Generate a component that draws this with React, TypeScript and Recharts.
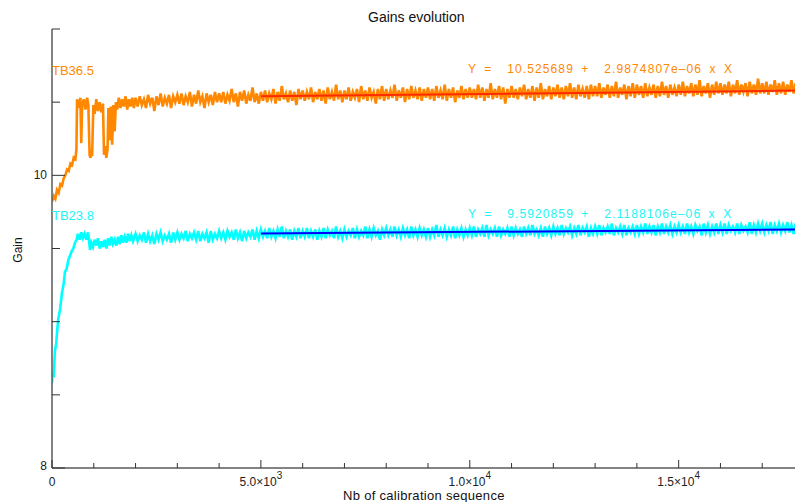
import React from 'react';
import { ComposedChart, Line, XAxis, YAxis } from 'recharts';

// early part of each channel, read point by point (sequence number, gain)
const orangeEarlySeq = [0, 40, 80, 120, 160, 200, 240, 280, 320, 360, 400, 440, 480, 520, 560, 585, 600, 640, 680, 700, 720, 760, 800, 840, 870, 900, 920, 940, 960, 990, 1020, 1060, 1100, 1140, 1180, 1220, 1245, 1270, 1300, 1330, 1350, 1380, 1410, 1440, 1470, 1500, 1530, 1560, 1600, 1640, 1680, 1720, 1760, 1800, 1840, 1880, 1920, 1960];
const orangeEarlyGain = [9.82, 9.86, 9.84, 9.9, 9.88, 9.94, 9.93, 9.98, 10.0, 10.04, 10.03, 10.08, 10.07, 10.12, 10.11, 10.18, 10.52, 10.46, 10.53, 10.22, 10.47, 10.52, 10.45, 10.53, 10.48, 10.14, 10.12, 10.18, 10.13, 10.48, 10.42, 10.52, 10.44, 10.5, 10.43, 10.49, 10.14, 10.2, 10.12, 10.18, 10.46, 10.24, 10.47, 10.21, 10.48, 10.3, 10.5, 10.45, 10.53, 10.46, 10.52, 10.47, 10.54, 10.45, 10.52, 10.47, 10.53, 10.46];

const cyanEarlySeq = [0, 20, 40, 70, 100, 145, 190, 240, 280, 310, 350, 390, 430, 470, 510, 550, 590, 620, 660, 700, 740, 780, 820, 860, 880, 910, 940, 980, 1020, 1060, 1100, 1140, 1180, 1220, 1260, 1300, 1340, 1380, 1420, 1460, 1500, 1540, 1580, 1620, 1660, 1700, 1740, 1780, 1820, 1860, 1900, 1940];
const cyanEarlyGain = [8.58, 8.66, 8.62, 8.8, 8.85, 9.01, 9.08, 9.2, 9.26, 9.34, 9.36, 9.42, 9.45, 9.48, 9.5, 9.54, 9.56, 9.6, 9.56, 9.61, 9.57, 9.6, 9.56, 9.61, 9.57, 9.49, 9.54, 9.51, 9.56, 9.52, 9.57, 9.5, 9.55, 9.51, 9.56, 9.5, 9.57, 9.52, 9.58, 9.53, 9.56, 9.52, 9.58, 9.53, 9.59, 9.54, 9.58, 9.54, 9.6, 9.55, 9.59, 9.55];

// steady part: one value every 50 sequences from 2000 to 18000
const LATE_START = 2000;
const LATE_STEP = 50;

const orangeLateGain = [
  10.53, 10.47, 10.54, 10.48, 10.52, 10.46, 10.55, 10.49, 10.53, 10.44, 10.54, 10.48, 10.56, 10.47, 10.53, 10.49, 10.55, 10.46, 10.54, 10.5,
  10.55, 10.49, 10.56, 10.48, 10.54, 10.5, 10.57, 10.47, 10.55, 10.49, 10.58, 10.5, 10.54, 10.46, 10.56, 10.5, 10.55, 10.48, 10.57, 10.5,
  10.56, 10.5, 10.57, 10.49, 10.55, 10.51, 10.59, 10.5, 10.56, 10.47, 10.57, 10.51, 10.58, 10.49, 10.55, 10.51, 10.6, 10.5, 10.56, 10.49,
  10.57, 10.51, 10.58, 10.5, 10.56, 10.52, 10.59, 10.49, 10.57, 10.51, 10.61, 10.52, 10.56, 10.5, 10.58, 10.51, 10.57, 10.48, 10.59, 10.52,
  10.58, 10.51, 10.57, 10.52, 10.6, 10.5, 10.57, 10.52, 10.59, 10.51, 10.58, 10.49, 10.6, 10.52, 10.57, 10.51, 10.62, 10.52, 10.58, 10.5,
  10.58, 10.52, 10.6, 10.51, 10.57, 10.53, 10.59, 10.5, 10.61, 10.52, 10.58, 10.51, 10.6, 10.53, 10.57, 10.49, 10.59, 10.52, 10.61, 10.51,
  10.59, 10.52, 10.58, 10.53, 10.62, 10.51, 10.58, 10.53, 10.6, 10.5, 10.59, 10.52, 10.61, 10.53, 10.58, 10.52, 10.6, 10.51, 10.59, 10.53,
  10.6, 10.52, 10.59, 10.51, 10.61, 10.53, 10.58, 10.52, 10.62, 10.51, 10.59, 10.53, 10.6, 10.5, 10.58, 10.53, 10.61, 10.52, 10.59, 10.53,
  10.6, 10.53, 10.59, 10.52, 10.62, 10.53, 10.6, 10.51, 10.59, 10.53, 10.63, 10.52, 10.59, 10.53, 10.61, 10.52, 10.6, 10.49, 10.59, 10.53,
  10.61, 10.53, 10.59, 10.52, 10.6, 10.54, 10.62, 10.52, 10.59, 10.53, 10.61, 10.51, 10.6, 10.53, 10.63, 10.52, 10.59, 10.54, 10.61, 10.52,
  10.6, 10.54, 10.62, 10.53, 10.6, 10.52, 10.61, 10.54, 10.63, 10.53, 10.6, 10.52, 10.62, 10.54, 10.59, 10.53, 10.61, 10.52, 10.62, 10.54,
  10.61, 10.54, 10.63, 10.53, 10.6, 10.55, 10.62, 10.53, 10.61, 10.54, 10.64, 10.53, 10.6, 10.55, 10.62, 10.52, 10.61, 10.54, 10.63, 10.53,
  10.62, 10.55, 10.61, 10.53, 10.63, 10.54, 10.6, 10.55, 10.62, 10.53, 10.61, 10.54, 10.64, 10.55, 10.61, 10.53, 10.62, 10.55, 10.6, 10.54,
  10.62, 10.55, 10.64, 10.54, 10.61, 10.56, 10.63, 10.54, 10.62, 10.55, 10.65, 10.54, 10.61, 10.56, 10.63, 10.53, 10.62, 10.55, 10.64, 10.56,
  10.63, 10.55, 10.62, 10.56, 10.64, 10.54, 10.62, 10.56, 10.65, 10.55, 10.62, 10.57, 10.63, 10.54, 10.64, 10.56, 10.62, 10.55, 10.66, 10.56,
  10.63, 10.56, 10.64, 10.55, 10.62, 10.57, 10.65, 10.55, 10.63, 10.56, 10.64, 10.55, 10.62, 10.57, 10.65, 10.56, 10.63, 10.55, 10.64, 10.57,
  10.62,
];

const cyanLateGain = [
  9.6, 9.55, 9.59, 9.56, 9.61, 9.54, 9.6, 9.55, 9.59, 9.53, 9.6, 9.56, 9.61, 9.55, 9.59, 9.56, 9.6, 9.54, 9.61, 9.56,
  9.61, 9.56, 9.6, 9.57, 9.62, 9.55, 9.6, 9.57, 9.61, 9.56, 9.62, 9.55, 9.6, 9.57, 9.61, 9.54, 9.62, 9.56, 9.6, 9.57,
  9.62, 9.57, 9.61, 9.56, 9.62, 9.58, 9.61, 9.56, 9.63, 9.57, 9.61, 9.55, 9.62, 9.57, 9.61, 9.58, 9.63, 9.56, 9.62, 9.57,
  9.63, 9.58, 9.62, 9.57, 9.64, 9.58, 9.62, 9.57, 9.63, 9.58, 9.65, 9.57, 9.62, 9.58, 9.63, 9.56, 9.62, 9.58, 9.64, 9.57,
  9.62, 9.58, 9.64, 9.57, 9.62, 9.58, 9.63, 9.56, 9.62, 9.58, 9.64, 9.57, 9.63, 9.59, 9.62, 9.57, 9.65, 9.58, 9.62, 9.57,
  9.63, 9.58, 9.62, 9.59, 9.64, 9.57, 9.63, 9.58, 9.62, 9.59, 9.65, 9.57, 9.63, 9.58, 9.64, 9.59, 9.62, 9.56, 9.63, 9.59,
  9.64, 9.59, 9.63, 9.58, 9.65, 9.59, 9.63, 9.58, 9.64, 9.59, 9.63, 9.57, 9.65, 9.59, 9.63, 9.58, 9.64, 9.59, 9.63, 9.58,
  9.64, 9.58, 9.63, 9.59, 9.66, 9.58, 9.63, 9.59, 9.64, 9.58, 9.63, 9.59, 9.65, 9.57, 9.63, 9.59, 9.64, 9.58, 9.63, 9.59,
  9.64, 9.59, 9.65, 9.58, 9.63, 9.6, 9.64, 9.58, 9.66, 9.59, 9.63, 9.6, 9.64, 9.58, 9.65, 9.59, 9.63, 9.6, 9.64, 9.58,
  9.65, 9.59, 9.64, 9.6, 9.63, 9.58, 9.65, 9.6, 9.64, 9.59, 9.66, 9.6, 9.63, 9.59, 9.64, 9.58, 9.65, 9.6, 9.64, 9.59,
  9.65, 9.6, 9.64, 9.59, 9.66, 9.6, 9.64, 9.61, 9.65, 9.59, 9.64, 9.6, 9.66, 9.59, 9.64, 9.61, 9.65, 9.58, 9.64, 9.6,
  9.65, 9.6, 9.66, 9.59, 9.64, 9.61, 9.65, 9.6, 9.67, 9.59, 9.64, 9.61, 9.65, 9.6, 9.66, 9.59, 9.64, 9.61, 9.65, 9.6,
  9.66, 9.6, 9.65, 9.61, 9.67, 9.6, 9.65, 9.61, 9.66, 9.59, 9.65, 9.61, 9.67, 9.6, 9.65, 9.61, 9.66, 9.6, 9.65, 9.61,
  9.66, 9.61, 9.65, 9.6, 9.67, 9.61, 9.65, 9.6, 9.66, 9.62, 9.65, 9.59, 9.67, 9.61, 9.66, 9.6, 9.65, 9.61, 9.67, 9.6,
  9.66, 9.61, 9.67, 9.6, 9.66, 9.62, 9.65, 9.61, 9.67, 9.6, 9.66, 9.62, 9.65, 9.61, 9.68, 9.6, 9.66, 9.61, 9.67, 9.62,
  9.67, 9.61, 9.66, 9.62, 9.68, 9.6, 9.66, 9.62, 9.67, 9.61, 9.66, 9.62, 9.68, 9.61, 9.66, 9.6, 9.67, 9.62, 9.66, 9.61,
  9.66,
];

// linear fits, drawn from 5000 to the end
const fitSeq = [5000, 18000];
const orangeFit = [10.54, 10.58];
const cyanFit = [9.603, 9.63];

const xTicks = [0, 1000, 2000, 3000, 4000, 5000, 6000, 7000, 8000, 9000, 10000, 11000, 12000, 13000, 14000, 15000, 16000, 17000, 18000];
const xTickLabels: Record<number, [string, string]> = {
  0: ['0', ''],
  5000: ['5.0×10', '3'],
  10000: ['1.0×10', '4'],
  15000: ['1.5×10', '4'],
};
const yTicks = [8, 8.5, 9, 9.5, 10, 10.5, 11];
const yTickLabels: Record<number, string> = { 8: '8', 10: '10' };

const ORANGE = '#ff8800';
const ORANGE_FIT = '#ff2a00';
const CYAN = '#00ffff';
const CYAN_FIT = '#0000ff';
const FONT = '"Liberation Sans", Arial, sans-serif';

const orangeTable = [
  ...orangeEarlySeq.map((s, i) => ({ seq: s, gain: orangeEarlyGain[i] })),
  ...orangeLateGain.map((g, i) => ({ seq: LATE_START + i * LATE_STEP, gain: g })),
];
const cyanTable = [
  ...cyanEarlySeq.map((s, i) => ({ seq: s, gain: cyanEarlyGain[i] })),
  ...cyanLateGain.map((g, i) => ({ seq: LATE_START + i * LATE_STEP, gain: g })),
];
const orangeFitTable = fitSeq.map((s, i) => ({ seq: s, fit: orangeFit[i] }));
const cyanFitTable = fitSeq.map((s, i) => ({ seq: s, fit: cyanFit[i] }));

function BottomTick({ x, y, payload }: any) {
  const v = payload.value;
  const major = v % 5000 === 0;
  const lab = xTickLabels[v];
  return (
    <g>
      <line x1={x} y1={y} x2={x} y2={y - (major ? 8 : 5)} stroke="#333" strokeWidth={1} />
      {lab && (
        <text x={x} y={y + 18} textAnchor="middle" fontSize={12} fontFamily={FONT} fill="#222">
          {lab[0]}
          {lab[1] && <tspan dy={-7} fontSize={10}>{lab[1]}</tspan>}
        </text>
      )}
    </g>
  );
}

function TopTick({ x, y, payload }: any) {
  const major = payload.value % 5000 === 0;
  return <line x1={x} y1={y} x2={x} y2={y + (major ? 8 : 5)} stroke="#333" strokeWidth={1} />;
}

function LeftTick({ x, y, payload }: any) {
  const v = payload.value;
  const major = v === 8 || v === 10;
  const lab = yTickLabels[v];
  return (
    <g>
      <line x1={x} y1={y} x2={x + (major ? 13 : 8)} y2={y} stroke="#333" strokeWidth={1} />
      {lab && (
        <text x={x - 5} y={y + (v === 8 ? 2 : 4)} textAnchor="end" fontSize={12} fontFamily={FONT} fill="#222">
          {lab}
        </text>
      )}
    </g>
  );
}

const txt = (style: React.CSSProperties): React.CSSProperties => ({
  position: 'absolute',
  fontFamily: FONT,
  fontSize: 12,
  whiteSpace: 'nowrap',
  lineHeight: 1,
  ...style,
});

export default function App() {
  return (
    <div style={{ position: 'absolute', left: 0, top: 0, width: 795, height: 502, overflow: 'hidden', background: '#fff' }}>
      <ComposedChart width={820} height={502} margin={{ top: 29, right: 16, bottom: 0, left: 0 }}>
        <XAxis
          xAxisId="bottom"
          type="number"
          dataKey="seq"
          domain={[0, 18000]}
          ticks={xTicks}
          interval={0}
          allowDataOverflow
          height={34}
          tickSize={0}
          tickMargin={0}
          tickLine={false}
          tick={<BottomTick />}
          axisLine={{ stroke: '#5a5a5a', strokeWidth: 1.5 }}
        />
        <XAxis
          xAxisId="top"
          orientation="top"
          type="number"
          dataKey="seq"
          domain={[0, 18000]}
          ticks={xTicks}
          interval={0}
          allowDataOverflow
          height={0}
          tickSize={0}
          tickMargin={0}
          tickLine={false}
          tick={<TopTick />}
          axisLine={{ stroke: '#5a5a5a', strokeWidth: 1.5 }}
        />
        <YAxis
          type="number"
          domain={[8, 11]}
          ticks={yTicks}
          interval={0}
          allowDataOverflow
          width={52}
          tickSize={0}
          tickMargin={0}
          tickLine={false}
          tick={<LeftTick />}
          axisLine={{ stroke: '#5a5a5a', strokeWidth: 1.5 }}
        />
        <Line xAxisId="bottom" data={orangeTable} dataKey="gain" stroke={ORANGE} strokeWidth={2.6} strokeLinejoin="miter" dot={false} isAnimationActive={false} />
        <Line xAxisId="bottom" data={orangeFitTable} dataKey="fit" stroke={ORANGE_FIT} strokeWidth={2} dot={false} isAnimationActive={false} />
        <Line xAxisId="top" data={cyanTable} dataKey="gain" stroke={CYAN} strokeWidth={2.6} strokeLinejoin="miter" dot={false} isAnimationActive={false} />
        <Line xAxisId="top" data={cyanFitTable} dataKey="fit" stroke={CYAN_FIT} strokeWidth={2} dot={false} isAnimationActive={false} />
      </ComposedChart>

      <div style={txt({ left: 368, top: 10, fontSize: 14, color: '#111' })}>Gains evolution</div>
      <div style={txt({ left: 52, top: 64, fontSize: 13, color: ORANGE })}>TB36.5</div>
      <div style={txt({ left: 52, top: 209, fontSize: 13, color: '#22f4f4' })}>TB23.8</div>
      <div style={txt({ left: 468, top: 63, fontSize: 12, color: ORANGE, wordSpacing: 3, letterSpacing: 1.1 })}>
        Y =&nbsp;&nbsp;10.525689 +&nbsp;&nbsp;2.9874807e–06 x X
      </div>
      <div style={txt({ left: 468, top: 208, fontSize: 12, color: '#22f4f4', wordSpacing: 3, letterSpacing: 1.1 })}>
        Y =&nbsp;&nbsp;9.5920859 +&nbsp;&nbsp;2.1188106e–06 x X
      </div>
      <div style={txt({ left: 343, top: 489, fontSize: 13, color: '#111', letterSpacing: 0.3 })}>Nb of calibration sequence</div>
      <div
        style={txt({
          left: 18,
          top: 250,
          fontSize: 12,
          color: '#111',
          transform: 'translate(-50%, -50%) rotate(-90deg)',
        })}
      >
        Gain
      </div>
    </div>
  );
}
